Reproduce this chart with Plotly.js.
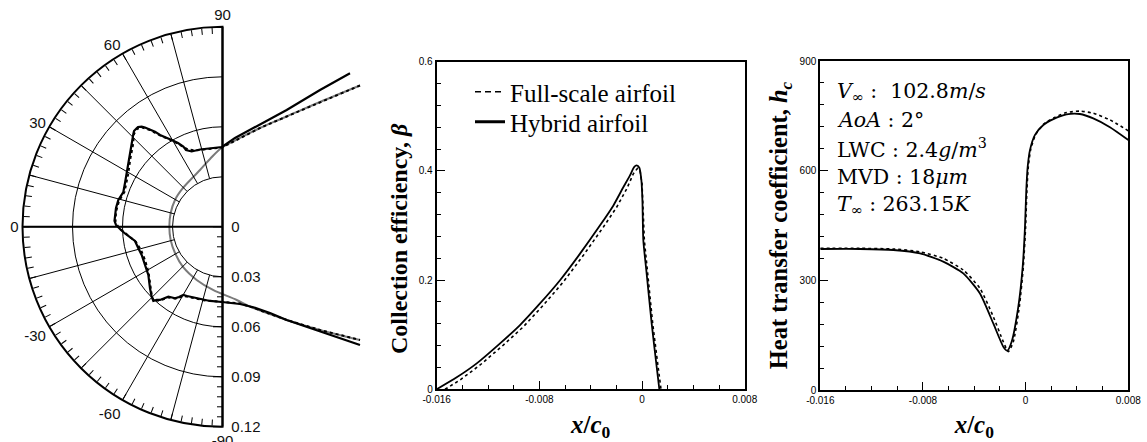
<!DOCTYPE html>
<html><head><meta charset="utf-8">
<script src="https://cdn.plot.ly/plotly-3.0.1.min.js"></script>
<style>html,body{margin:0;padding:0;background:#fff}#chart{width:1147px;height:442px}</style>
</head><body><div id="chart"></div>
<script>
// ---------- DATA ----------
// Left panel: clean airfoil contour and ice shapes (x/c units, origin at polar centre)
const airfoilX = [0.0825,0.0585,0.0385,0.0225,0.0105,-0.0003,-0.0075,-0.0135,-0.0237,-0.0285,-0.0311,-0.0319,-0.0311,-0.0285,-0.0237,-0.0155,-0.0057,0.0085,0.0165,0.0385,0.0585,0.0825];
const airfoilY = [0.0848,0.0749,0.0662,0.0593,0.0533,0.0476,0.0407,0.0341,0.0233,0.0161,0.0083,0,-0.0079,-0.0157,-0.0241,-0.0319,-0.0379,-0.0439,-0.0479,-0.0559,-0.0619,-0.0679];
const hybridIceX = [0.0765,0.0585,0.0385,0.0183,0.0075,-0.0003,-0.0027,-0.0105,-0.0135,-0.0185,-0.0219,-0.0235,-0.0267,-0.0305,-0.0345,-0.0375,-0.0405,-0.0435,-0.0465,-0.0485,-0.0507,-0.0515,-0.0531,-0.0535,-0.0541,-0.0545,-0.0555,-0.0565,-0.0575,-0.0585,-0.0595,-0.0615,-0.0625,-0.0639,-0.0645,-0.0648,-0.0639,-0.0625,-0.0609,-0.0585,-0.0555,-0.0525,-0.0505,-0.0485,-0.0465,-0.0445,-0.0435,-0.0425,-0.0415,-0.0395,-0.0375,-0.0345,-0.0325,-0.0303,-0.0285,-0.0261,-0.0235,-0.0213,-0.0195,-0.0135,-0.0075,-0.0003,0.0105,0.0185,0.0285,0.0385,0.0585,0.0825];
const hybridIceY = [0.0921,0.0821,0.0701,0.0593,0.0533,0.0479,0.0476,0.0467,0.0464,0.0452,0.0461,0.0481,0.0503,0.0521,0.0539,0.0551,0.0571,0.0585,0.0596,0.0601,0.0599,0.0591,0.0575,0.0557,0.0521,0.0481,0.0421,0.0361,0.0301,0.0263,0.0209,0.0173,0.0161,0.0113,0.0071,0.0035,0.0011,-0.0004,-0.0019,-0.0040,-0.0064,-0.0085,-0.0129,-0.0169,-0.0229,-0.0289,-0.0369,-0.0419,-0.0445,-0.0439,-0.0439,-0.0427,-0.0419,-0.0424,-0.0429,-0.0421,-0.0409,-0.0415,-0.0419,-0.0433,-0.0445,-0.0451,-0.0463,-0.0483,-0.0517,-0.0559,-0.0629,-0.0709];
const fullIceX = [0.0825,0.0585,0.0385,0.0225,0.0105,-0.0003,-0.0027,-0.0105,-0.0165,-0.0207,-0.0237,-0.0303,-0.0375,-0.0435,-0.0483,-0.0513,-0.0531,-0.0537,-0.0552,-0.0567,-0.0588,-0.0621,-0.0639,-0.0642,-0.0621,-0.0573,-0.0519,-0.0489,-0.0465,-0.0444,-0.0432,-0.0423,-0.0411,-0.0375,-0.0327,-0.0279,-0.0231,-0.0183,-0.0105,-0.0003,0.0105,0.0165,0.0385,0.0585,0.0825];
const fullIceY = [0.0848,0.0749,0.0662,0.0593,0.0533,0.0476,0.0473,0.0464,0.0458,0.0464,0.0482,0.0518,0.0548,0.0581,0.0596,0.0587,0.0557,0.0491,0.0413,0.0311,0.0209,0.0155,0.0089,0.0029,-0.0007,-0.0049,-0.0091,-0.0139,-0.0199,-0.0271,-0.0355,-0.0421,-0.0445,-0.0442,-0.0424,-0.0430,-0.0415,-0.0424,-0.0442,-0.0451,-0.0460,-0.0479,-0.0559,-0.0619,-0.0679];

// Middle panel: collection efficiency
const betaHybridX = [-0.016,-0.01444,-0.01288,-0.01106,-0.00951,-0.00795,-0.00639,-0.00483,-0.00327,-0.00223,-0.00145,-0.00094,-0.00062,-0.00042,-0.00021,-0.00005,0.00003,0.00010,0.00036,0.00075,0.00114,0.00135];
const betaHybridY = [0,0.0219,0.0475,0.0841,0.1176,0.1572,0.1998,0.2485,0.3003,0.3368,0.3704,0.3917,0.4069,0.4100,0.4057,0.3825,0.346,0.273,0.212,0.1206,0.0414,0];
const betaFullX = [-0.01535,-0.01418,-0.01262,-0.01081,-0.00925,-0.00769,-0.00613,-0.00457,-0.00301,-0.00197,-0.00119,-0.00068,-0.00036,-0.00016,0.0000,0.00008,0.00018,0.00044,0.00083,0.00125,0.00148];
const betaFullY = [0,0.0171,0.0445,0.0810,0.1145,0.1541,0.1967,0.2455,0.2973,0.3338,0.3673,0.3947,0.4045,0.4008,0.3764,0.340,0.273,0.212,0.1206,0.0414,0];

// Right panel: heat transfer coefficient
const hcHybridX = [-0.016,-0.01291,-0.01031,-0.00823,-0.00642,-0.00486,-0.00356,-0.00252,-0.00174,-0.00143,-0.00109,-0.00057,-0.00023,-0.00005,0.00005,0.00016,0.00034,0.00073,0.00138,0.00216,0.00319,0.00423,0.00527,0.00657,0.008];
const hcHybridY = [385.7,385.7,383,373.9,351,319,264,182,118.5,107.6,132,228,337,447,547,611,657,698,725,741,754,755,743,719,684];
const hcFullX = [-0.016,-0.01291,-0.01031,-0.00823,-0.00642,-0.00486,-0.00356,-0.00252,-0.00174,-0.00135,-0.00096,-0.00049,-0.00018,0.0000,0.00010,0.00021,0.00039,0.00078,0.00143,0.00221,0.00319,0.00423,0.00527,0.00657,0.008];
const hcFullY = [387.5,387.5,385.7,378,360,328,278,200.6,132,105,132,228,337,447,547,611,657,699,728,745,759,763,757,739,709];

// Tick labels
const xTickVals = [-0.016,-0.008,0,0.008];
const xTickText = ['-0.016','-0.008','0','0.008'];
const betaTickVals = [0,0.2,0.4,0.6];
const betaTickText = ['0','0.2','0.4','0.6'];
const hcTickVals = [0,300,600,900];
const hcTickText = ['0','300','600','900'];
const angLabelVals = [-90,-60,-30,0,30,60,90];
const radTickVals = [0,0.03,0.06,0.09,0.12];
const radTickText = ['0','0.03','0.06','0.09','0.12'];
const seriesNames = ['Full-scale airfoil','Hybrid airfoil'];
const paramLines = [
  '<i>V</i><sub>∞</sub> :  102.8<i>m</i>/<i>s</i>',
  '<i>AoA</i> : 2°',
  'LWC : 2.4<i>g</i>/<i>m</i><sup>3</sup>',
  'MVD : 18<i>μm</i>',
  '<i>T</i><sub>∞</sub> : 263.15<i>K</i>'
];

// ---------- LAYOUT GEOMETRY ----------
const W = 1147, H = 442;
const CX = 222.5, CY = 226.8, R = 200, RMAX = 0.12;
const k = R / RMAX;
const leftPx = [0, 375];
const SANS = 'Liberation Sans, Arial, sans-serif';
const SERIF = 'Liberation Serif, Times New Roman, serif';
const MATH = 'DejaVu Serif, serif';

const angTickVals = [], angTickText = [];
for (let a = -90; a <= 90; a += 3) { angTickVals.push(a); angTickText.push(angLabelVals.includes(a) ? String(a) : ''); }
const radMinorVals = [];
for (let i = 0; i <= 20; i++) { const v = +(i * 0.006).toFixed(3); if (i % 5 !== 0) radMinorVals.push(v); }

const polarDomain = { x: [(CX - R) / W, CX / W], y: [1 - (CY + R) / H, 1 - (CY - R) / H] };
const pBox = (dx0, dx1, dy0, dy1) => ({ x: [dx0 / W, dx1 / W], y: [1 - dy1 / H, 1 - dy0 / H] });
const mid = pBox(436.7, 744.7, 61.7, 389.3);
const rgt = pBox(820.3, 1128.3, 61, 390);

const blk = '#000';
const traces = [
  // left panel (cartesian overlay)
  { x: airfoilX, y: airfoilY, xaxis: 'x', yaxis: 'y', mode: 'lines', line: { color: '#7a7a7a', width: 2, shape: 'spline', smoothing: 1 }, showlegend: false, hoverinfo: 'skip' },
  { x: fullIceX, y: fullIceY, xaxis: 'x', yaxis: 'y', mode: 'lines', line: { color: blk, width: 2, dash: 'dot' }, showlegend: false, hoverinfo: 'skip' },
  { x: hybridIceX, y: hybridIceY, xaxis: 'x', yaxis: 'y', mode: 'lines', line: { color: blk, width: 2.2 }, showlegend: false, hoverinfo: 'skip' },
  // polar placeholders
  { type: 'scatterpolar', r: [], theta: [], subplot: 'polar', showlegend: false, hoverinfo: 'skip' },
  { type: 'scatterpolar', r: [], theta: [], subplot: 'polar2', showlegend: false, hoverinfo: 'skip' },
  { type: 'scatterpolar', r: [], theta: [], subplot: 'polar3', showlegend: false, hoverinfo: 'skip' },
  // middle
  { x: betaFullX, y: betaFullY, xaxis: 'x2', yaxis: 'y2', mode: 'lines', name: seriesNames[0], line: { color: blk, width: 1.6, dash: 'dot' }, showlegend: false, hoverinfo: 'skip' },
  { x: betaHybridX, y: betaHybridY, xaxis: 'x2', yaxis: 'y2', mode: 'lines', name: seriesNames[1], line: { color: blk, width: 1.8, shape: 'spline', smoothing: 0.6 }, showlegend: false, hoverinfo: 'skip' },
  // legend entries
  { x: [null], y: [null], xaxis: 'x2', yaxis: 'y2', mode: 'lines', name: seriesNames[0], line: { color: blk, width: 1.5, dash: '6px,4px' }, legend: 'legend' },
  { x: [null], y: [null], xaxis: 'x2', yaxis: 'y2', mode: 'lines', name: seriesNames[1], line: { color: blk, width: 3 }, legend: 'legend2' },
  // right
  { x: hcFullX, y: hcFullY, xaxis: 'x3', yaxis: 'y3', mode: 'lines', line: { color: blk, width: 1.6, dash: 'dot', shape: 'spline', smoothing: 0.6 }, showlegend: false, hoverinfo: 'skip' },
  { x: hcHybridX, y: hcHybridY, xaxis: 'x3', yaxis: 'y3', mode: 'lines', line: { color: blk, width: 1.8, shape: 'spline', smoothing: 0.6 }, showlegend: false, hoverinfo: 'skip' }
];

const boxAxis = (dom, rng, tv, tt, dtickMinor, anchor) => ({
  domain: dom, range: rng, anchor: anchor, showline: true, mirror: true, linecolor: blk, linewidth: 2,
  ticks: 'inside', ticklen: 8, tickwidth: 1, tickcolor: blk, tickmode: 'array', tickvals: tv, ticktext: tt,
  minor: { dtick: dtickMinor, ticks: 'inside', ticklen: 4, tickwidth: 1, tickcolor: blk, showgrid: false },
  showgrid: false, zeroline: false, automargin: false, fixedrange: true,
  tickfont: { family: SANS, size: 10, color: blk }
});

const xTitle = { text: '<b><i>x</i>/<i>c</i><sub>0</sub></b>', font: { family: SERIF, size: 25, color: blk }, standoff: 17 };
const pad = '<span style="color:rgba(0,0,0,0)">nn</span>';
const legendBase = (yPx) => ({ x: 470 / W, y: 1 - yPx / H, xanchor: 'left', yanchor: 'middle', bgcolor: 'rgba(0,0,0,0)', borderwidth: 0,
  font: { family: SERIF, size: 25, color: blk } });

const layout = {
  width: W, height: H, margin: { l: 0, r: 0, t: 0, b: 0 },
  paper_bgcolor: '#fff', plot_bgcolor: 'rgba(0,0,0,0)', hovermode: false,
  xaxis: { domain: [leftPx[0] / W, leftPx[1] / W], range: [(leftPx[0] - CX) / k, (leftPx[1] - CX) / k], visible: false, fixedrange: true, anchor: 'y' },
  yaxis: { domain: polarDomain.y, range: [-RMAX, RMAX], visible: false, fixedrange: true, anchor: 'x' },
  polar: {
    domain: polarDomain, sector: [90, 270], bgcolor: 'rgba(0,0,0,0)',
    angularaxis: { rotation: 180, direction: 'clockwise', tickmode: 'array', tickvals: angTickVals, ticktext: angTickText,
      ticks: 'inside', ticklen: 6, tickwidth: 1, tickcolor: blk, showline: true, linewidth: 2, linecolor: blk, showgrid: false,
      tickfont: { family: SANS, size: 15, color: '#111' } },
    radialaxis: { range: [0, RMAX], angle: 270, side: 'counterclockwise', tickmode: 'array', tickvals: radTickVals,
      ticktext: radTickText.map(t => '\u00a0\u00a0' + t),
      ticks: 'inside', ticklen: 9, tickwidth: 1, tickcolor: blk, showline: false, showgrid: true, gridcolor: blk, gridwidth: 1,
      tickfont: { family: SANS, size: 15, color: '#111' }, tickangle: -90 }
  },
  polar2: {
    domain: polarDomain, sector: [90, 270], hole: 0.25, bgcolor: 'rgba(0,0,0,0)',
    angularaxis: { rotation: 180, direction: 'clockwise', tickmode: 'linear', tick0: 0, dtick: 15, showgrid: true, gridcolor: blk, gridwidth: 1,
      ticks: '', showticklabels: false, showline: false },
    radialaxis: { range: [0.03, RMAX], visible: false }
  },
  polar3: {
    domain: polarDomain, sector: [90, 270], bgcolor: 'rgba(0,0,0,0)',
    angularaxis: { visible: false, rotation: 180, direction: 'clockwise' },
    radialaxis: { range: [0, RMAX], angle: 270, side: 'counterclockwise', tickmode: 'array', tickvals: radMinorVals,
      ticks: 'inside', ticklen: 5, tickwidth: 1, tickcolor: blk, showticklabels: false, showline: false, showgrid: false }
  },
  xaxis2: Object.assign(boxAxis(mid.x, [-0.016, 0.008], xTickVals, xTickText, 0.002, 'y2'), { title: xTitle }),
  yaxis2: Object.assign(boxAxis(mid.y, [0, 0.6], betaTickVals, betaTickText, 0.04, 'x2'),
    { title: { text: '<b>Collection efficiency, <i>β</i>' + pad + '</b>', font: { family: SERIF, size: 24, color: blk }, standoff: 4 } }),
  xaxis3: Object.assign(boxAxis(rgt.x, [-0.016, 0.008], xTickVals, xTickText, 0.002, 'y3'), { title: xTitle }),
  yaxis3: Object.assign(boxAxis(rgt.y, [0, 900], hcTickVals, hcTickText, 60, 'x3'),
    { title: { text: '<b>Heat transfer coefficient, <i>h<sub>c</sub></i></b>', font: { family: SERIF, size: 24.5, color: blk }, standoff: 5 } }),
  legend: legendBase(92),
  legend2: legendBase(122),
  shapes: [
    { type: 'line', xref: 'x', yref: 'y', x0: 0, x1: 0, y0: -RMAX, y1: RMAX, line: { color: blk, width: 2 }, layer: 'above' },
    { type: 'line', xref: 'x', yref: 'y', x0: -RMAX, x1: 0, y0: 0, y1: 0, line: { color: blk, width: 2 }, layer: 'above' }
  ],
  annotations: paramLines.map((t, i) => ({
    text: t, xref: 'paper', yref: 'paper', x: 835 / W, y: 1 - (91.7 + i * 28.3) / H, xanchor: 'left', yanchor: 'middle',
    showarrow: false, align: 'left', font: { family: MATH, size: 20.5, color: blk }
  }))
};

Plotly.newPlot('chart', traces, layout, { staticPlot: true, displayModeBar: false });
</script></body></html>
